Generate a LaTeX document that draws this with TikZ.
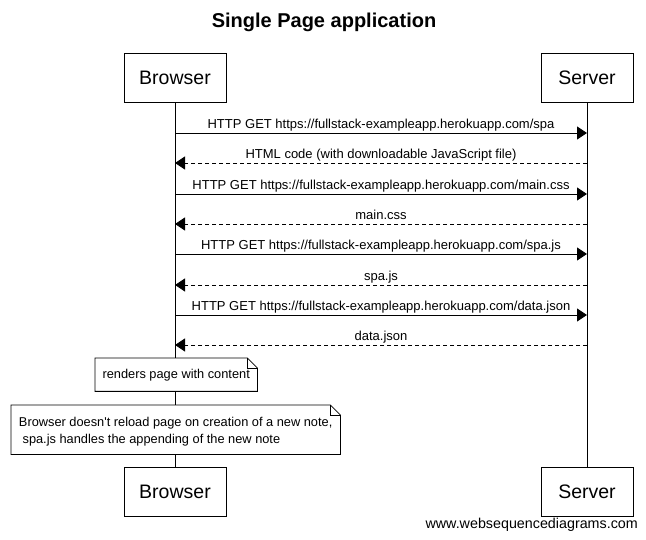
\documentclass[tikz,border=0pt]{standalone}
\usepackage{fontspec}
\setmainfont{Liberation Sans}
\usetikzlibrary{arrows.meta}
\begin{document}
\begin{tikzpicture}[x=1pt,y=-1pt,
  actor/.style={draw,fill=white,line width=0.8pt,minimum width=102pt,minimum height=49pt,inner sep=0pt,font=\fontsize{19.5}{22}\selectfont},
  msglabel/.style={anchor=base,inner sep=0pt,yshift=4pt,font=\fontsize{13}{15}\selectfont},
  req/.style={line width=0.8pt,-{Triangle[length=10pt,width=13pt]}},
  resp/.style={req,dash pattern=on 4pt off 3pt},
  notebox/.style={fill=white,inner sep=0pt,anchor=north west,font=\fontsize{12.8}{17}\selectfont,align=left},
  notefold/.style={line width=0.8pt},
  lifeline/.style={line width=0.8pt}
]
\useasboundingbox (0,0) rectangle (646,540);
\fill[white] (0,0) rectangle (646,540);

\node[font=\bfseries\fontsize{20}{24}\selectfont] (title) at (324,22) {Single Page application};

\node[actor] (bt) at (175,77.5) {Browser};
\node[actor,minimum width=92pt] (st) at (587,77.5) {Server};
\node[actor] (bb) at (175,491.5) {Browser};
\node[actor,minimum width=92pt] (sb) at (587,491.5) {Server};

\draw[lifeline] (bt) -- (bb);
\draw[lifeline] (st) -- (sb);

% message coordinates
\foreach \i/\y in {1/133,2/163,3/194,4/224,5/254,6/285,7/315,8/345}{
  \coordinate (b\i) at (175,\y);
  \coordinate (s\i) at (587,\y);
}

\draw[req] (b1) -- node[msglabel] {HTTP GET https://fullstack-exampleapp.herokuapp.com/spa} (s1);
\draw[resp] (s2) -- node[msglabel] {HTML code (with downloadable JavaScript file)} (b2);
\draw[req] (b3) -- node[msglabel] {HTTP GET https://fullstack-exampleapp.herokuapp.com/main.css} (s3);
\draw[resp] (s4) -- node[msglabel] {main.css} (b4);
\draw[req] (b5) -- node[msglabel] {HTTP GET https://fullstack-exampleapp.herokuapp.com/spa.js} (s5);
\draw[resp] (s6) -- node[msglabel] {spa.js} (b6);
\draw[req] (b7) -- node[msglabel] {HTTP GET https://fullstack-exampleapp.herokuapp.com/data.json} (s7);
\draw[resp] (s8) -- node[msglabel] {data.json} (b8);

% note 1
\node[notebox,minimum width=162pt,minimum height=33pt,text depth=1pt] (n1) at (95,358) {renders page with content};
\draw[notefold] (n1.north west) -- ([xshift=-10pt]n1.north east) -- ([yshift=-10pt]n1.north east) -- (n1.south east) -- (n1.south west) -- cycle;
\draw[notefold] ([xshift=-10pt]n1.north east) -- ([xshift=-10pt,yshift=-10pt]n1.north east) -- ([yshift=-10pt]n1.north east);

% note 2
\node[notebox,minimum width=329pt,minimum height=49pt] (n2) at (11,405) {\rule{0pt}{13pt}Browser doesn\textquotesingle t reload page on creation of a new note,\\\hspace*{3.6pt}spa.js handles the appending of the new note};
\draw[notefold] (n2.north west) -- ([xshift=-10pt]n2.north east) -- ([yshift=-10pt]n2.north east) -- (n2.south east) -- (n2.south west) -- cycle;
\draw[notefold] ([xshift=-10pt]n2.north east) -- ([xshift=-10pt,yshift=-10pt]n2.north east) -- ([yshift=-10pt]n2.north east);

\node[font=\fontsize{14.3}{16}\selectfont,anchor=east,inner sep=0pt] (wm) at (638,525) {www.websequencediagrams.com};
\end{tikzpicture}
\end{document}
